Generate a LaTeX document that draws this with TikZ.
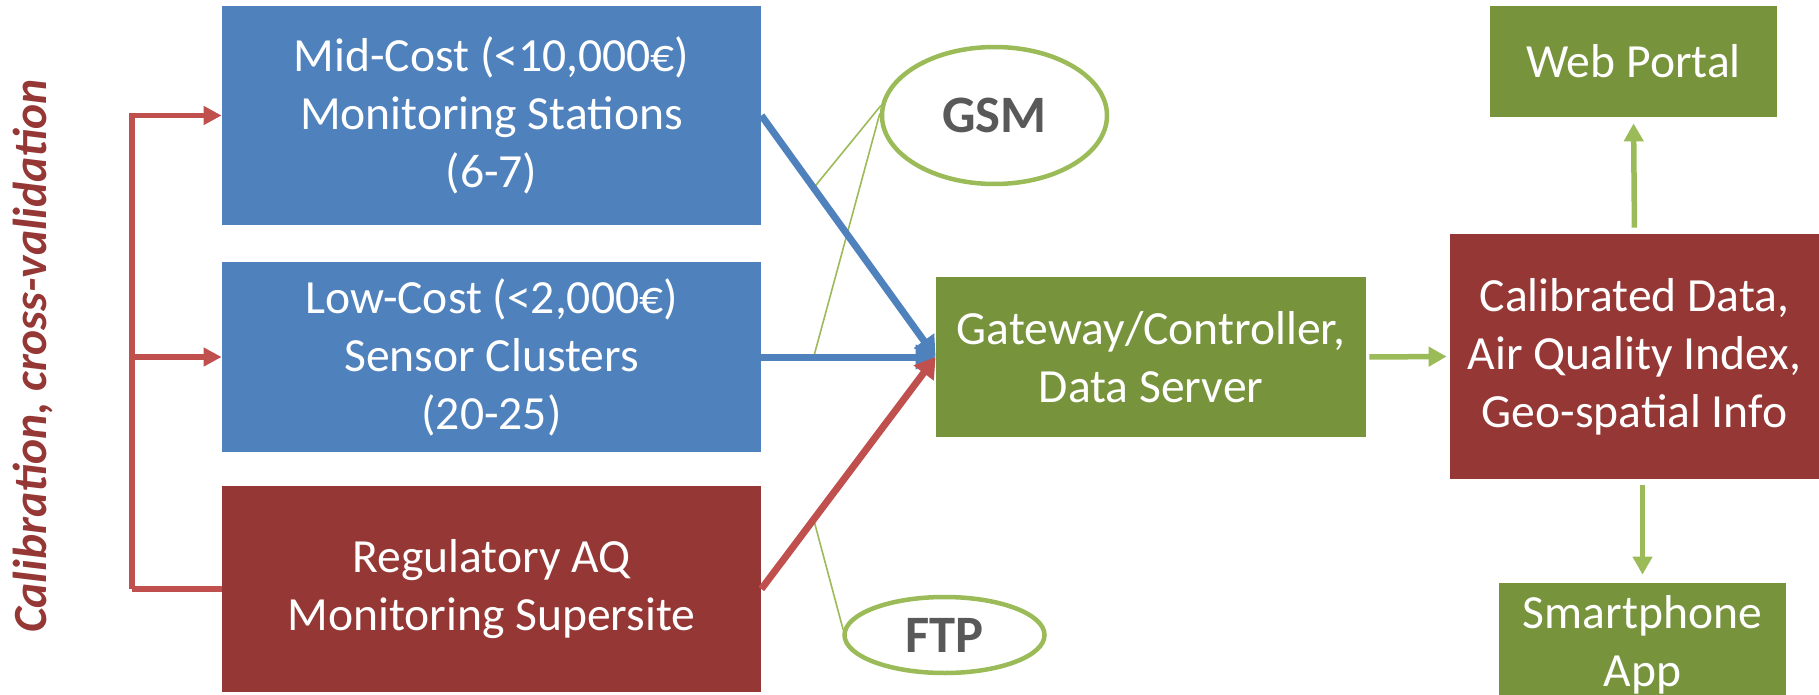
\documentclass[tikz,border=0pt]{standalone}
\usepackage{fontspec}
\setmainfont{Carlito}
\usetikzlibrary{arrows.meta,shapes.geometric}

\definecolor{boxblue}{HTML}{4F81BD}
\definecolor{boxred}{HTML}{953735}
\definecolor{boxgreen}{HTML}{77933C}
\definecolor{linered}{HTML}{C0504D}
\definecolor{linegreen}{HTML}{9BBB59}
\definecolor{labelgray}{HTML}{595959}

\begin{document}
\begin{tikzpicture}[x=0.5pt,y=-0.5pt,
    every node/.style={font=\fontsize{23.8}{29}\selectfont},
    box/.style={rectangle,text=white,align=center,inner sep=1pt},
    bluebox/.style={box,fill=boxblue},
    redbox/.style={box,fill=boxred},
    greenbox/.style={box,fill=boxgreen},
    medium/.style={ellipse,draw=linegreen,line width=2.25pt,fill=white,
        text=labelgray,inner sep=0pt,font=\fontsize{26.3}{31}\selectfont\bfseries},
    sidelabel/.style={rotate=90,text=boxred,
        font=\fontsize{23.8}{29}\selectfont\bfseries\itshape},
    bluearrow/.style={draw=boxblue,line width=3.5pt,-{Triangle[length=10pt,width=12pt]}},
    redarrow/.style={draw=linered,line width=3.5pt,-{Triangle[length=10pt,width=12pt]}},
    greenarrow/.style={draw=linegreen,line width=2.75pt,-{Triangle[length=9pt,width=9.5pt]}},
    bracket/.style={draw=linered,line width=2.75pt},
    bracketarrow/.style={bracket,-{Triangle[length=9pt,width=9pt]}},
    link/.style={draw=linegreen,line width=0.8pt}]
\useasboundingbox (0,0) rectangle (1819,695);

% sensor tiers
\node[bluebox,minimum width=269.5pt,minimum height=109.5pt] (mid) at (491.5,115.5)
    {Mid-Cost (<10,000€)\\Monitoring Stations\\(6-7)};
\node[bluebox,minimum width=269.5pt,minimum height=95pt] (low) at (491.5,357)
    {Low-Cost (<2,000€)\\Sensor Clusters\\(20-25)};
\node[redbox,minimum width=269.5pt,minimum height=103pt] (reg) at (491.5,589)
    {Regulatory AQ\\Monitoring Supersite};
\node[sidelabel] (calab) at (33,356) {Calibration, cross-validation};

% server and outputs
\node[greenbox,minimum width=215pt,minimum height=80pt] (gate) at (1151,357)
    {Gateway/Controller,\\Data Server};
\node[redbox,minimum width=184.5pt,minimum height=122.5pt] (calib) at (1634.5,356.5)
    {Calibrated Data,\\Air Quality Index,\\Geo-spatial Info};
\node[greenbox,minimum width=143.5pt,minimum height=55.5pt] (web) at (1633.5,61.5)
    {Web Portal};
\node[greenbox,minimum width=143.5pt,minimum height=61.5pt] (smart) at (1642.5,644.5)
    {Smartphone\\App};

% transfer media
\node[medium,minimum width=112.5pt,minimum height=68.5pt] (gsm) at (994.5,115.5) {GSM};
\node[medium,minimum width=100pt,minimum height=38pt] (ftp) at (944.5,635) {FTP};

\path (mid.east) -- (gate.west) coordinate[pos=0.3] (gsma);
\path (low.east) -- (gate.west) coordinate[pos=0.3] (gsmb);
\path (reg.east) -- (gate.west) coordinate[pos=0.3] (ftpa);
\draw[link] (gsma) -- (gsm.175);
\draw[link] (gsmb) -- (gsm.179);
\draw[link] (ftpa) -- (ftp.177);

% data flow
\draw[bluearrow] (mid.east) -- (gate.west);
\draw[bluearrow] (low.east) -- (gate.west);
\draw[redarrow] (reg.east) -- (gate.west);
\draw[greenarrow,shorten <=1.5pt,shorten >=1.5pt] (gate.east) -- (calib.west);
\draw[greenarrow,shorten <=3pt,shorten >=3pt] (calib.north) -- (web.south);
\draw[greenarrow,shorten <=3pt,shorten >=4pt] (calib.south -| smart.north) -- (smart.north);

% calibration bracket
\coordinate (bend) at (132,589);
\draw[bracket] (reg.west) -- (bend);
\draw[bracketarrow] (bend) |- (mid.west);
\draw[bracketarrow] (bend |- low.west) -- (low.west);
\end{tikzpicture}
\end{document}
